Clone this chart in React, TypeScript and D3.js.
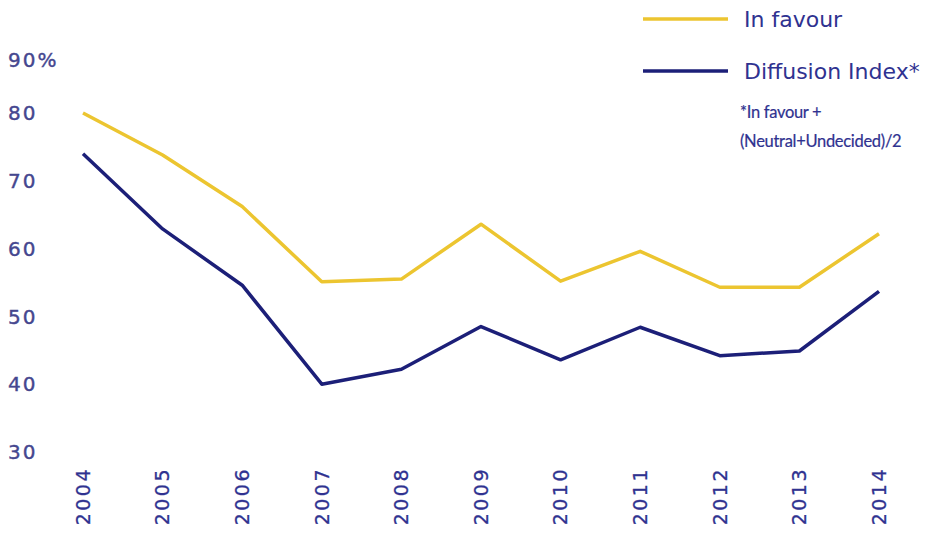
import React from "react";
import * as d3 from "d3";

const years = [2004, 2005, 2006, 2007, 2008, 2009, 2010, 2011, 2012, 2013, 2014];
const inFavour = [80, 73.8, 66.2, 55.1, 55.5, 63.6, 55.2, 59.6, 54.3, 54.3, 62.2];
const diffusion = [74, 62.9, 54.6, 40, 42.2, 48.5, 43.6, 48.4, 44.2, 44.9, 53.7];
const yTicks = [30, 40, 50, 60, 70, 80, 90];
const legendLabels = ["In favour", "Diffusion Index*"];
const footnote = ["*In favour +", "(Neutral+Undecided)/2"];

const W = 947;
const H = 538;
const YELLOW = "#ecc530";
const NAVY = "#1c1f78";
const TEXT = "#2f3290";
const AXIS_TEXT = "#45478f";
const FONT = "'DejaVu Sans', sans-serif";
const FOOT_FONT = "Lato, 'DejaVu Sans', sans-serif";

export default function App() {
  const x = d3.scaleLinear().domain([2004, 2014]).range([83, 879]);
  const y = d3.scaleLinear().domain([30, 80]).range([452, 113]);
  const line = d3
    .line<number>()
    .x((_, i) => x(years[i]))
    .y((d) => y(d));

  return (
    <svg
      width={W}
      height={H}
      style={{ position: "absolute", left: 0, top: 0, background: "#fff" }}
    >
      {yTicks.map((t) => (
        <text
          key={t}
          x={8}
          y={t === 90 ? 60 : y(t)}
          dy="0.36em"
          fontFamily={FONT}
          fontSize={20}
          letterSpacing={2}
          fill={AXIS_TEXT}
          stroke={AXIS_TEXT}
          strokeWidth={0.4}
        >
          {t === 90 ? "90%" : String(t)}
        </text>
      ))}
      {years.map((yr) => (
        <text
          key={yr}
          transform={`translate(${x(yr)},467) rotate(-90)`}
          textAnchor="end"
          dy="0.36em"
          fontFamily={FONT}
          fontSize={19}
          letterSpacing={2.5}
          fill={TEXT}
          stroke={TEXT}
          strokeWidth={0.3}
        >
          {yr}
        </text>
      ))}
      <path d={line(inFavour) || ""} fill="none" stroke={YELLOW} strokeWidth={3.5} strokeLinejoin="round" />
      <path d={line(diffusion) || ""} fill="none" stroke={NAVY} strokeWidth={3.5} strokeLinejoin="round" />

      <line x1={643} x2={728} y1={19} y2={19} stroke={YELLOW} strokeWidth={3.5} />
      <text x={744} y={19} dy="0.36em" fontFamily={FONT} fontSize={22} fill={TEXT}>
        {legendLabels[0]}
      </text>
      <line x1={643} x2={728} y1={71} y2={71} stroke={NAVY} strokeWidth={3.5} />
      <text x={744} y={71} dy="0.36em" fontFamily={FONT} fontSize={22} fill={TEXT}>
        {legendLabels[1]}
      </text>
      {footnote.map((f, i) => (
        <text
          key={f}
          x={740}
          y={112 + i * 29}
          dy="0.36em"
          fontFamily={FOOT_FONT}
          fontSize={16.5}
          letterSpacing={-0.3}
          fill={TEXT}
          stroke={TEXT}
          strokeWidth={0.2}
        >
          {f}
        </text>
      ))}
    </svg>
  );
}
